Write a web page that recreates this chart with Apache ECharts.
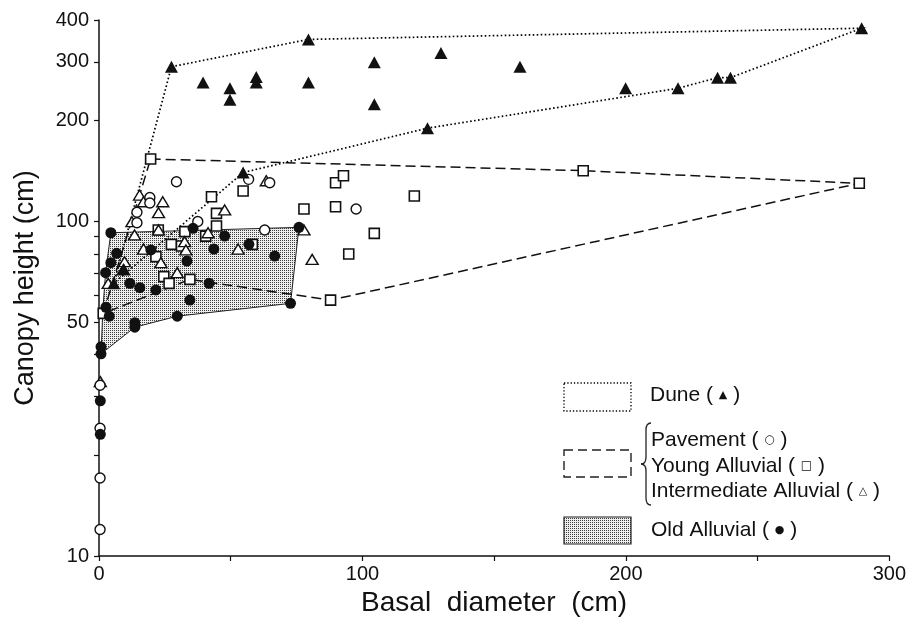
<!DOCTYPE html>
<html>
<head>
<meta charset="utf-8">
<script src="https://cdn.jsdelivr.net/npm/echarts@6/dist/echarts.min.js"></script>
<style>
html,body{margin:0;padding:0;background:#fff;}
#chart{width:909px;height:627px;}
</style>
</head>
<body>
<div id="chart"></div>
<script>
// ---- data (basal diameter cm, canopy height cm) ----
var duneX = [27.5, 79.5, 39.5, 49.7, 49.7, 59.7, 59.7, 79.5, 104.5, 104.5, 54.7, 129.8, 159.8, 199.9, 219.8, 234.8, 239.7, 289.5, 124.7, 5.6, 9.4];
var duneY = [290, 350, 260, 250, 231, 270, 260, 260, 299, 224, 140, 319, 290, 250, 250, 269, 269, 378, 190, 65.3, 72.1];

var pavX = [29.4, 19.3, 19.3, 14.4, 14.4, 37.5, 56.8, 64.8, 97.6, 62.9, 0.4, 0.4, 0.4, 0.4];
var pavY = [131.4, 117.9, 113.5, 106.5, 99.1, 100, 133.6, 130.5, 108.9, 94.3, 32.4, 24.1, 17.1, 12.0];

var youngX = [19.6, 54.7, 42.7, 44.6, 77.8, 89.8, 89.8, 92.8, 44.6, 119.7, 104.5, 94.8, 87.9, 183.8, 288.6, 27.5, 31.3, 32.6, 40.5, 22.5, 21.6, 24.6, 26.6, 34.5, 1.6, 58.2];
var youngY = [153.7, 123.3, 118.5, 105.7, 108.9, 110.6, 130.5, 137, 96.9, 119.1, 92.1, 79.9, 58.2, 141.8, 130, 85.4, 84.4, 93.2, 90.4, 94.3, 78.5, 68.4, 65.3, 67.1, 53.1, 85.4];

var interX = [15.4, 16.9, 24.2, 22.6, 12.5, 13.5, 22.6, 16.9, 32.5, 33, 9.7, 23.5, 9.2, 3.5, 29.7, 41.4, 47.7, 52.8, 77.8, 80.9, 63.5, 0.5];
var interY = [119.9, 114.5, 114.5, 106.2, 99.8, 91.1, 94.3, 82.7, 87, 82.2, 75.8, 75.3, 71.6, 65.3, 70.3, 92.5, 108.2, 82.7, 94.3, 77, 132.3, 33.2];

var oldX = [4.5, 75.9, 72.7, 29.7, 13.6, 13.6, 0.76, 0.76, 2.65, 3.9, 2.5, 4.5, 6.7, 11.7, 15.5, 21.6, 34.5, 41.8, 19.7, 33.4, 35.7, 47.7, 43.6, 66.7, 56.9, 0.5, 0.5];
var oldY = [92.5, 96, 56.9, 52.1, 49.8, 48.3, 42.2, 40.2, 55.4, 52.1, 70.3, 75.3, 80.3, 65.3, 63.4, 62.4, 58.2, 65.3, 82.2, 76.1, 95.4, 90.4, 82.7, 78.8, 85.4, 29.1, 23.1];

// envelope vertices
var duneHullX = [27.5, 79.5, 289.5, 239.7, 234.8, 219.8, 124.7, 54.7, 5.6];
var duneHullY = [290, 350, 378, 269, 269, 250, 190, 140, 65.3];
var youngHullX = [19.6, 183.8, 288.6, 87.9, 34.5, 1.6];
var youngHullY = [153.7, 141.8, 130, 58.2, 67.1, 53.1];
var oldHullX = [4.5, 75.9, 72.7, 29.7, 13.6, 0.76, 1.5, 2.5];
var oldHullY = [92.5, 96, 56.9, 52.1, 48.3, 40.2, 55, 70.3];

// axis ticks / labels
var yTickValues = [10, 20, 30, 40, 50, 60, 70, 80, 90, 100, 200, 300, 400];
var yLabelValues = [10, 50, 100, 200, 300, 400];
var xLabelValues = [0, 100, 200, 300];

// ---- helpers ----
function pairs(xs, ys) { return xs.map(function (x, i) { return [x, ys[i]]; }); }

var pc = document.createElement('canvas');
pc.width = 2; pc.height = 2;
var pctx = pc.getContext('2d');
pctx.fillStyle = '#eeeeee'; pctx.fillRect(0, 0, 2, 2);
pctx.fillStyle = '#3c3c3c'; pctx.fillRect(0, 0, 1, 1);
var stipple = { image: pc, repeat: 'repeat' };

function hullSeries(xs, ys, style, z) {
  return {
    type: 'custom', coordinateSystem: 'cartesian2d', silent: true, z: z, clip: false,
    data: pairs(xs, ys), encode: { x: 0, y: 1 },
    renderItem: function (params, api) {
      if (params.dataIndex !== 0) return null;
      var pts = xs.map(function (x, i) { return api.coord([x, ys[i]]); });
      return { type: 'polygon', shape: { points: pts }, style: style };
    }
  };
}

var FONT = '"Liberation Sans", Arial, Helvetica, sans-serif';
var BR = { stroke: '#222', lineWidth: 1.3, fill: 'none' };
var chart = echarts.init(document.getElementById('chart'), null, { renderer: 'canvas' });

var option = {
  animation: false,
  backgroundColor: '#fff',
  grid: { left: 99, right: 18, top: 20, bottom: 71, containLabel: false },
  xAxis: {
    type: 'value', min: 0, max: 300, interval: 50,
    name: 'Basal  diameter  (cm)', nameLocation: 'middle', nameGap: 28,
    nameTextStyle: { fontFamily: FONT, fontSize: 28, color: '#111' },
    axisLine: { show: true, onZero: false, lineStyle: { color: '#111', width: 1.5 } },
    axisTick: { show: true, inside: false, length: 5, lineStyle: { color: '#111', width: 1.2 } },
    axisLabel: {
      margin: 8, fontFamily: FONT, fontSize: 20, color: '#111',
      formatter: function (v) { return xLabelValues.indexOf(v) >= 0 ? String(v) : ''; }
    },
    splitLine: { show: false }
  },
  yAxis: {
    type: 'log', logBase: 10, min: 10, max: 400,
    name: 'Canopy height (cm)', nameLocation: 'middle', nameGap: 60,
    nameTextStyle: { fontFamily: FONT, fontSize: 27, color: '#111' },
    axisLine: { show: true, onZero: false, lineStyle: { color: '#111', width: 1.5 } },
    axisTick: { show: true, inside: false, length: 5, customValues: yTickValues, lineStyle: { color: '#111', width: 1.2 } },
    axisLabel: {
      margin: 10, fontFamily: FONT, fontSize: 20, color: '#111', customValues: yLabelValues,
      formatter: function (v) { return String(Math.round(v)); }
    },
    splitLine: { show: false }, minorTick: { show: false }
  },
  series: [
    hullSeries(oldHullX, oldHullY, { fill: stipple, stroke: '#222', lineWidth: 1 }, 1),
    hullSeries(youngHullX, youngHullY, { fill: 'none', stroke: '#111', lineWidth: 1.5, lineDash: [10, 5] }, 2),
    hullSeries(duneHullX, duneHullY, { fill: 'none', stroke: '#000', lineWidth: 1.7, lineDash: [1.6, 2.4] }, 2),
    {
      name: 'Young Alluvial', type: 'scatter', z: 5, symbol: 'rect', symbolSize: 10,
      itemStyle: { color: '#fff', borderColor: '#111', borderWidth: 1.6, opacity: 1 },
      data: pairs(youngX, youngY)
    },
    {
      name: 'Intermediate Alluvial', type: 'scatter', z: 5, symbol: 'triangle', symbolSize: [12, 10],
      itemStyle: { color: '#fff', borderColor: '#111', borderWidth: 1.4, opacity: 1 },
      data: pairs(interX, interY)
    },
    {
      name: 'Pavement', type: 'scatter', z: 5, symbol: 'circle', symbolSize: 10,
      itemStyle: { color: '#fff', borderColor: '#111', borderWidth: 1.4, opacity: 1 },
      data: pairs(pavX, pavY)
    },
    {
      name: 'Old Alluvial', type: 'scatter', z: 6, symbol: 'circle', symbolSize: 11,
      itemStyle: { color: '#111', opacity: 1 },
      data: pairs(oldX, oldY)
    },
    {
      name: 'Dune', type: 'scatter', z: 6, symbol: 'triangle', symbolSize: [13, 12],
      itemStyle: { color: '#111', opacity: 1 },
      data: pairs(duneX, duneY)
    }
  ],
  graphic: [
    { type: 'rect', shape: { x: 564, y: 383, width: 67, height: 28 }, style: { fill: '#fff', stroke: '#000', lineWidth: 1.3, lineDash: [1.3, 2] } },
    { type: 'rect', shape: { x: 564, y: 450, width: 67, height: 27 }, style: { fill: '#fff', stroke: '#222', lineWidth: 1.4, lineDash: [9, 5] } },
    { type: 'rect', shape: { x: 564, y: 517, width: 67, height: 27 }, style: { fill: stipple, stroke: '#222', lineWidth: 1.2 } },
    { type: 'bezierCurve', shape: { x1: 651, y1: 423, x2: 646, y2: 430, cpx1: 646, cpy1: 423 }, style: BR },
    { type: 'line', shape: { x1: 646, y1: 430, x2: 646, y2: 457 }, style: BR },
    { type: 'bezierCurve', shape: { x1: 646, y1: 457, x2: 641, y2: 464, cpx1: 646, cpy1: 464 }, style: BR },
    { type: 'bezierCurve', shape: { x1: 641, y1: 464, x2: 646, y2: 471, cpx1: 646, cpy1: 464 }, style: BR },
    { type: 'line', shape: { x1: 646, y1: 471, x2: 646, y2: 498 }, style: BR },
    { type: 'bezierCurve', shape: { x1: 646, y1: 498, x2: 651, y2: 505, cpx1: 646, cpy1: 505 }, style: BR },
    { type: 'text', x: 650, y: 395, style: { text: 'Dune ( {s|▲} )', font: '21px ' + FONT, fill: '#111', verticalAlign: 'middle', rich: { s: { fontSize: 11, fontFamily: 'DejaVu Sans' } } } },
    { type: 'text', x: 651, y: 440, style: { text: 'Pavement ( {s|○} )', font: '21px ' + FONT, fill: '#111', verticalAlign: 'middle', rich: { s: { fontSize: 12, fontFamily: 'DejaVu Sans' } } } },
    { type: 'text', x: 651, y: 466, style: { text: 'Young Alluvial ( {s|□} )', font: '21px ' + FONT, fill: '#111', verticalAlign: 'middle', rich: { s: { fontSize: 12, fontFamily: 'DejaVu Sans' } } } },
    { type: 'text', x: 651, y: 491, style: { text: 'Intermediate Alluvial ( {s|△} )', font: '21px ' + FONT, fill: '#111', verticalAlign: 'middle', rich: { s: { fontSize: 11, fontFamily: 'DejaVu Sans' } } } },
    { type: 'text', x: 651, y: 530, style: { text: 'Old Alluvial ( {s|●} )', font: '21px ' + FONT, fill: '#111', verticalAlign: 'middle', rich: { s: { fontSize: 11, fontFamily: 'DejaVu Sans' } } } }
  ]
};
chart.setOption(option);
</script>
</body>
</html>
